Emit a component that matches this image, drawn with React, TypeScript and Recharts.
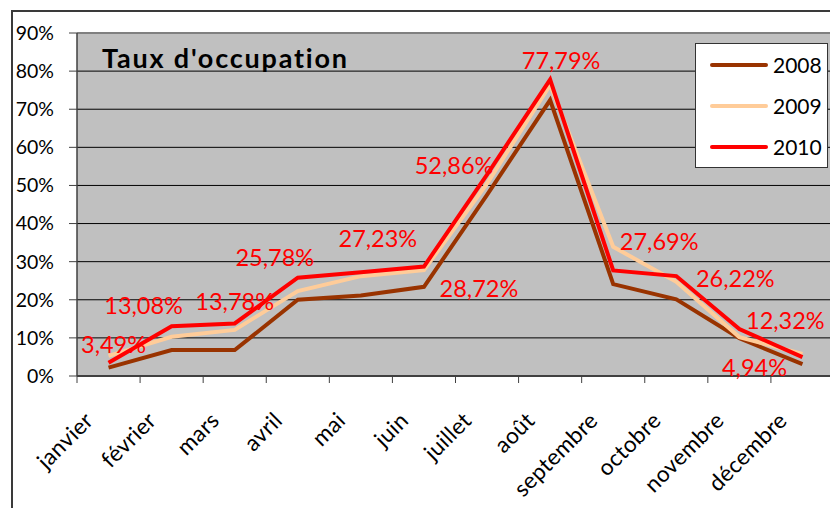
import React from 'react'
import {
  LineChart,
  Line,
  XAxis,
  YAxis,
  CartesianGrid,
  Legend,
  LabelList,
  ReferenceLine,
} from 'recharts'

const MONTHS = [
  'janvier', 'février', 'mars', 'avril', 'mai', 'juin',
  'juillet', 'août', 'septembre', 'octobre', 'novembre', 'décembre',
]
const SERIES_NAMES = ['2008', '2009', '2010']
const VALUES_2008 = [2.2, 6.8, 6.8, 20, 21.1, 23.4, 47.5, 72.4, 24.1, 20.1, 9.9, 3.1]
const VALUES_2009 = [5.3, 10.3, 12.1, 22.3, 26.2, 27.8, 50.5, 76.4, 33.9, 24.7, 10.2, 5.8]
const VALUES_2010 = [3.49, 13.08, 13.78, 25.78, 27.23, 28.72, 52.86, 77.79, 27.69, 26.22, 12.32, 4.94]
const Y_TICKS = [0, 10, 20, 30, 40, 50, 60, 70, 80, 90]
const TITLE = "Taux d'occupation"

// layout
const CHART_W = 900
const CHART_H = 508
const PLOT_LEFT = 77
const PLOT_RIGHT = 834
const HALF_BAND = (PLOT_RIGHT - PLOT_LEFT) / MONTHS.length / 2
const FONT = 'Lato, "Open Sans", sans-serif'

// where each 2010 data label sits relative to its point (dx, dy)
const LABEL_OFFSETS: [number, number][] = [
  [5, -19], [-28, -21], [0, -22], [-23, -21], [17, -34], [55, 21],
  [-33, -10], [11, -20], [46, -29], [59, 2], [46, -9], [-48, 10],
]

const COLORS = ['#993300', '#FFCC99', '#FF0000']

const data = MONTHS.map((m, i) => ({
  month: m,
  x: i + 0.5,
  y2008: VALUES_2008[i],
  y2009: VALUES_2009[i],
  y2010: VALUES_2010[i],
}))
const X_TICKS = [...MONTHS.map((_, i) => i), MONTHS.length]

const fmtPct = (v: number) => `${v.toFixed(2).replace('.', ',')}%`

function MonthTick(props: any) {
  const { x, y, payload } = props
  const idx = payload.value
  if (idx >= MONTHS.length) return <g />
  const ax = x + HALF_BAND - 14
  const ay = y + 37
  return (
    <text
      x={ax}
      y={ay}
      transform={`rotate(-45, ${ax}, ${ay})`}
      textAnchor="end"
      fill="#000"
      fontSize={22.5}
      fontFamily={FONT}
      letterSpacing={0.3}
    >
      {MONTHS[idx]}
    </text>
  )
}

function RedLabel(props: any) {
  const { x, y, index, value } = props
  const [dx, dy] = LABEL_OFFSETS[index] ?? [0, -20]
  return (
    <text
      x={x + dx}
      y={y + dy}
      textAnchor="middle"
      dominantBaseline="central"
      fill="#FF0000"
      fontSize={23.5}
      fontFamily={FONT}
    >
      {fmtPct(value)}
    </text>
  )
}

function LegendBox(props: any) {
  const { payload } = props
  return (
    <div
      style={{
        width: 131,
        height: 123,
        background: '#fff',
        border: '1px solid #333',
        boxSizing: 'content-box',
      }}
    >
      {(payload ?? []).map((p: any) => (
        <div key={p.value} style={{ display: 'flex', alignItems: 'center', height: 41 }}>
          <div style={{ width: 58, height: 4, marginLeft: 14, background: p.color, borderRadius: 2 }} />
          <span style={{ marginLeft: 5, fontSize: 21, fontFamily: FONT, color: '#000' }}>{p.value}</span>
        </div>
      ))}
    </div>
  )
}

export default function App() {
  return (
    <div
      style={{
        position: 'fixed',
        left: 0,
        top: 0,
        width: 830,
        height: 508,
        overflow: 'hidden',
        background: '#fff',
      }}
    >
      <div
        style={{
          position: 'absolute',
          left: 11,
          top: 10,
          width: 900,
          height: 600,
          border: '2px solid #3a3a3a',
        }}
      />
      <div style={{ position: 'absolute', left: 0, top: 0 }}>
        <LineChart
          width={CHART_W}
          height={CHART_H}
          data={data}
          margin={{ top: 33, right: CHART_W - PLOT_RIGHT, bottom: 0, left: 0 }}
        >
          <CartesianGrid vertical={false} stroke="#000" fill="#C0C0C0" fillOpacity={1} />
          <ReferenceLine y={90} stroke="#808080" strokeWidth={2} />
          <XAxis
            dataKey="x"
            type="number"
            domain={[0, MONTHS.length]}
            ticks={X_TICKS}
            interval={0}
            height={132}
            tickSize={7}
            tickMargin={2}
            axisLine={{ stroke: '#404040', strokeWidth: 2 }}
            tickLine={{ stroke: '#404040' }}
            tick={<MonthTick />}
          />
          <YAxis
            domain={[0, 90]}
            ticks={Y_TICKS}
            interval={0}
            width={PLOT_LEFT}
            tickSize={8}
            tickMargin={15}
            axisLine={{ stroke: '#404040', strokeWidth: 1.5 }}
            tickLine={{ stroke: '#404040' }}
            tick={{ fill: '#000', fontSize: 19.5, fontFamily: FONT }}
            tickFormatter={(v: number) => `${v}%`}
          />
          <Legend
            verticalAlign="middle"
            align="center"
            layout="vertical"
            content={<LegendBox />}
            wrapperStyle={{ position: 'absolute', left: 695, top: 43, width: 133, height: 125 }}
          />
          <Line
            dataKey="y2008"
            name={SERIES_NAMES[0]}
            stroke={COLORS[0]}
            strokeWidth={4}
            dot={false}
            activeDot={false}
            isAnimationActive={false}
          />
          <Line
            dataKey="y2009"
            name={SERIES_NAMES[1]}
            stroke={COLORS[1]}
            strokeWidth={4}
            dot={false}
            activeDot={false}
            isAnimationActive={false}
          />
          <Line
            dataKey="y2010"
            name={SERIES_NAMES[2]}
            stroke={COLORS[2]}
            strokeWidth={4}
            dot={false}
            activeDot={false}
            isAnimationActive={false}
          >
            <LabelList dataKey="y2010" content={<RedLabel />} />
          </Line>
        </LineChart>
      </div>
      <div
        style={{
          position: 'absolute',
          left: 102,
          top: 44,
          fontFamily: FONT,
          fontWeight: 700,
          fontSize: 27,
          lineHeight: '27px',
          letterSpacing: 1.8,
          color: '#000',
          whiteSpace: 'nowrap',
        }}
      >
        {TITLE}
      </div>
    </div>
  )
}
